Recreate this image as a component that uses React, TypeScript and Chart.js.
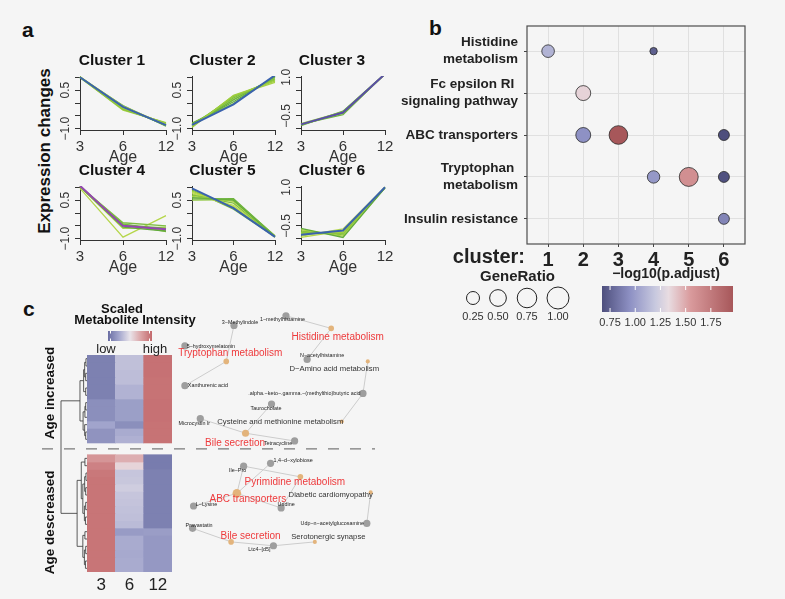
import React, { useEffect, useRef } from 'react';
import { Chart, registerables } from 'chart.js';

Chart.register(...registerables);

const FONT = '"Liberation Sans", Arial, Helvetica, sans-serif';
const PAGE_BG = '#f5f5f5';

// ---------------- Panel a : cluster profiles (first line = cluster core) ----------------
const AGE_LABELS = ['3', '6', '12'];
const CLUSTER_TITLES = ['Cluster 1', 'Cluster 2', 'Cluster 3', 'Cluster 4', 'Cluster 5', 'Cluster 6'];
const CLUSTER1 = [
  [1.0, -0.15, -0.86],
  [1.02, -0.12, -0.85], [1.0, -0.2, -0.8], [0.98, -0.25, -0.78], [1.0, -0.15, -0.88],
  [1.01, -0.22, -0.82], [0.99, -0.1, -0.9], [1.0, -0.28, -0.76], [1.02, -0.18, -0.86],
];
const CLUSTER2 = [
  [-0.85, -0.05, 1.08],
  [-0.95, 0.3, 0.85], [-0.9, 0.25, 0.9], [-0.85, 0.2, 0.95], [-0.88, 0.12, 1.0],
  [-0.8, 0.05, 1.02], [-0.92, 0.28, 0.8], [-0.78, -0.02, 1.05], [-0.86, 0.15, 0.92],
];
const CLUSTER3 = [
  [-0.83, -0.37, 1.13],
  [-0.8, -0.35, 1.12], [-0.85, -0.4, 1.12], [-0.82, -0.45, 1.13], [-0.88, -0.32, 1.14], [-0.84, -0.38, 1.12],
];
const CLUSTER4 = [
  [1.06, -0.5, -0.63],
  [1.03, -0.38, -0.5], [1.02, -0.45, -0.6], [1.03, -0.55, -0.7], [1.02, -0.6, -0.55],
  [1.04, -0.42, -0.72], [1.03, -0.5, -0.66], [0.96, -0.94, -0.1],
];
const CLUSTER5 = [
  [0.96, 0.19, -0.93],
  [0.55, 0.56, -0.9], [0.6, 0.5, -0.92], [0.65, 0.45, -0.9], [0.7, 0.38, -0.93], [0.75, 0.3, -0.91],
  [0.8, 0.25, -0.94], [0.85, 0.2, -0.9], [0.5, 0.52, -0.88], [0.9, 0.15, -0.92],
];
const CLUSTER6 = [
  [-0.85, -0.68, 1.0],
  [-0.6, -0.95, 0.98], [-0.65, -0.9, 1.0], [-0.7, -0.85, 0.97], [-0.9, -0.62, 1.0],
  [-0.95, -0.7, 0.99], [-0.8, -0.75, 0.98], [-0.75, -0.8, 1.0],
];
const CLUSTERS = [CLUSTER1, CLUSTER2, CLUSTER3, CLUSTER4, CLUSTER5, CLUSTER6];
const CLUSTER_Y_LABELS = [[0.5, -1.0], [0.5, -1.0], [1.0, -0.5], [0.5, -1.0], [0.5, -1.0], [1.0, -0.5]];

// styles for panel a
const CORE_COLORS = ['#3a62ad', '#3a62ad', '#5a4ea6', '#9446b0', '#3a62ad', '#3a62ad'];
const GREEN_SHADES = ['#b5d64a', '#9fce3f', '#8dc63c', '#7dbd41', '#6fb43f', '#62ab3c', '#a8d245', '#86c23e', '#bcdc52'];
const SMALL_PLOTS = [
  { pl: 80, pr: 166, pt: 76, pb: 130 },
  { pl: 192, pr: 275, pt: 76, pb: 130 },
  { pl: 301, pr: 385, pt: 76, pb: 130 },
  { pl: 80, pr: 166, pt: 186, pb: 240 },
  { pl: 192, pr: 275, pt: 186, pb: 240 },
  { pl: 301, pr: 385, pt: 186, pb: 240 },
];

// ---------------- Panel b : enrichment dot plot ----------------
const PATHWAYS = [
  ['Histidine', 'metabolism'],
  ['Fc epsilon RI ', 'signaling pathway'],
  ['ABC transporters'],
  ['Tryptophan ', 'metabolism'],
  ['Insulin resistance'],
];
const CLUSTER_IDS = [1, 2, 3, 4, 5, 6];
const DOT_CLUSTER = [1, 4, 2, 2, 3, 6, 4, 5, 6, 6];
const DOT_PATHWAY = [1, 1, 2, 3, 3, 3, 4, 4, 4, 5];
const DOT_GENERATIO = [0.23, 0.036, 0.37, 0.37, 0.66, 0.15, 0.22, 0.69, 0.15, 0.15];
const DOT_LOGP = [1.1, 0.74, 1.36, 0.95, 1.97, 0.67, 0.98, 1.62, 0.68, 0.9];
const SIZE_BREAKS = [0.25, 0.5, 0.75, 1.0];
const LOGP_BREAKS = [0.75, 1.0, 1.25, 1.5, 1.75];
const LOGP_LIMITS = [0.67, 1.97];

// ---------------- Panel c : heatmap ----------------
const HEAT_COLUMNS = ['3', '6', '12'];
const TOP_AGE3 = [-1.0, -1.0, -1.0, -1.0, -1.0, -1.0, -0.85, -0.85, -0.85, -0.62, -0.8, -0.8];
const TOP_AGE6 = [-0.35, -0.35, -0.38, -0.38, -0.48, -0.48, -0.68, -0.68, -0.68, -0.85, -0.55, -0.5];
const TOP_AGE12 = [1.12, 1.12, 1.12, 1.1, 1.1, 1.1, 1.12, 1.12, 1.12, 1.1, 1.1, 1.1];
const BOT_AGE3 = [0.75, 0.95, 1.05, 1.08, 1.08, 1.08, 1.08, 1.08, 1.08, 1.08, 1.08, 1.08, 1.08, 1.08, 1.08, 1.08];
const BOT_AGE6 = [0.5, 0.15, -0.3, -0.28, -0.22, -0.3, -0.32, -0.34, -0.36, -0.4, -0.72, -0.55, -0.55, -0.57, -0.55, -0.55];
const BOT_AGE12 = [-1.05, -1.05, -1.0, -1.0, -1.0, -1.0, -1.0, -1.0, -1.0, -1.0, -0.7, -0.75, -0.75, -0.75, -0.75, -0.75];
const BLOCK_GAP = 1.6;
// dendrogram merges: [childA, childB, height]; leaves 0..27, merge k has id 28+k
const DENDRO_MERGES: [number, number, number][] = [
  [0, 1, 0.04], [2, 3, 0.05], [28, 29, 0.09], [4, 5, 0.05], [30, 31, 0.13],
  [6, 7, 0.05], [33, 8, 0.08], [10, 11, 0.05], [9, 35, 0.09], [34, 36, 0.15], [32, 37, 0.27],
  [12, 13, 0.08], [14, 15, 0.04], [16, 17, 0.05], [40, 41, 0.09], [18, 19, 0.05], [20, 21, 0.06],
  [43, 44, 0.1], [42, 45, 0.16], [39, 46, 0.22], [22, 23, 0.08], [24, 25, 0.05], [26, 27, 0.06],
  [49, 50, 0.1], [48, 51, 0.16], [47, 52, 0.38], [38, 53, 1.0],
];

// ---------------- Panel c : metabolite–pathway network ----------------
const NET_LABELS = [
  '3−Methylindole', '1−methylhistamine', 'Histidine metabolism', 'N−acetylhistamine',
  'D−Amino acid metabolism', '5−hydroxymelatonin', 'Tryptophan metabolism', 'Xanthurenic acid',
  '.alpha.−keto−.gamma.−(methylthio)butyric acid', 'Taurocholate', 'Cysteine and methionine metabolism',
  'Microcystin lr', 'Bile secretion', 'Tetracycline', '1,4−d−xylobiose', 'Ile−Pro',
  'Pyrimidine metabolism', 'ABC transporters', 'Diabetic cardiomyopathy', 'L−Lysine', 'Uridine',
  'Udp−n−acetylglucosamine', 'Pravastatin', 'Bile secretion', 'Serotonergic synapse', 'Ltc4−[d5]',
];
const NET_KIND = ['m', 'm', 'p', 'm', 'q', 'm', 'p', 'm', 'm', 'm', 'q', 'm', 'p', 'm', 'm', 'm', 'p', 'p', 'q', 'm', 'm', 'm', 'm', 'p', 'q', 'm'];
const NET_X = [62, 116, 163, 138, 201, 11, 54, 11, 196, 101, 174, 27, 74, 125, 100, 72, 131, 65, 204, 20, 111, 200, 19, 59, 146, 103];
const NET_Y = [27, 17, 30, 62, 64, 48, 64, 89, 97, 108, 126, 123, 138, 146, 169, 172, 183, 200, 199, 213, 215, 231, 236, 250, 250, 254];
const NET_EDGES = [
  [0, 6], [6, 7], [1, 2], [2, 3], [4, 8], [8, 10], [9, 12], [11, 12], [12, 13],
  [15, 17], [14, 17], [15, 16], [16, 20], [17, 20], [19, 17], [18, 21], [22, 23], [23, 25], [25, 24],
];
// label placement (styling)
const LABEL_DX = [6, -3.5, 6.5, 15, -33.5, 26, 4, 23, -58.5, -5.5, -61.5, -6, -10.5, -16.5, 22.5, -6, -5.5, 11, -40, 13, 5, -34.5, 6.5, 19.5, 13.5, -14];
const LABEL_DY = [-3, 4, 9, -4, 7, 1, -8, 0, 0, 4, 0, 5, 10, 3, -3, 4, 5, 6, 2, -1, -3, 0, -3, -6, -5, 4];

// ---------------- colour helpers ----------------
const LOGP_STOPS: [number, string][] = [
  [0.67, '#4e4f7d'], [0.95, '#8e91c4'], [1.2, '#c8c9df'], [1.33, '#e8dce1'], [1.55, '#d99a9c'], [1.97, '#a7575a'],
];
const HEAT_STOPS: [number, string][] = [
  [-1.2, '#6a6ea3'], [-0.6, '#a3a6cd'], [0, '#e9e4ea'], [0.6, '#dba3a5'], [1.2, '#c3696c'],
];
function hexRgb(h: string) {
  const n = parseInt(h.slice(1), 16);
  return [(n >> 16) & 255, (n >> 8) & 255, n & 255];
}
function ramp(stops: [number, string][], v: number) {
  if (v <= stops[0][0]) return stops[0][1];
  if (v >= stops[stops.length - 1][0]) return stops[stops.length - 1][1];
  for (let i = 0; i < stops.length - 1; i++) {
    const [a, ca] = stops[i];
    const [b, cb] = stops[i + 1];
    if (v >= a && v <= b) {
      const t = (v - a) / (b - a);
      const A = hexRgb(ca);
      const B = hexRgb(cb);
      const c = A.map((x, k) => Math.round(x + (B[k] - x) * t));
      return `rgb(${c[0]},${c[1]},${c[2]})`;
    }
  }
  return stops[0][1];
}
const ratioToRadius = (v: number) => 2 + 9 * Math.sqrt(v);
const minusFmt = (v: number) => v.toFixed(1).replace('-', '−');

// ---------------- generic canvas holder ----------------
type Box = { left: number; top: number; width: number; height: number };
function ChartCanvas({ box, build }: { box: Box; build: () => any }) {
  const ref = useRef<HTMLCanvasElement>(null);
  useEffect(() => {
    const chart = new Chart(ref.current as HTMLCanvasElement, build());
    return () => chart.destroy();
  }, []);
  return (
    <canvas
      ref={ref}
      width={box.width}
      height={box.height}
      style={{ position: 'absolute', left: box.left, top: box.top, width: box.width, height: box.height }}
    />
  );
}

// ---------------- panel a chart ----------------
function buildCluster(idx: number) {
  const lines = CLUSTERS[idx];
  const title = CLUSTER_TITLES[idx];
  const yLabels = CLUSTER_Y_LABELS[idx];
  const decor = {
    id: 'smallDecor' + idx,
    afterDraw(chart: any) {
      const { ctx, chartArea: ca, scales } = chart;
      ctx.save();
      ctx.fillStyle = '#111';
      ctx.textAlign = 'center';
      ctx.textBaseline = 'middle';
      ctx.font = `bold 15.5px ${FONT}`;
      ctx.fillText(title, (ca.left + ca.right) / 2 - 11, ca.top - 15);
      ctx.fillStyle = '#333';
      ctx.font = `16px ${FONT}`;
      ctx.fillText('Age', (ca.left + ca.right) / 2, ca.bottom + 28);
      ctx.font = `12px ${FONT}`;
      for (const v of yLabels) {
        const y = scales.y.getPixelForValue(v);
        ctx.save();
        ctx.translate(ca.left - 8, y);
        ctx.rotate(-Math.PI / 2);
        ctx.textBaseline = 'bottom';
        ctx.fillText(minusFmt(v), 0, 0);
        ctx.restore();
      }
      ctx.restore();
    },
  };
  return {
    type: 'line',
    data: {
      labels: AGE_LABELS,
      datasets: lines.map((vals, i) => ({
        data: vals,
        borderColor: i === 0 ? CORE_COLORS[idx] : GREEN_SHADES[(i - 1 + idx) % GREEN_SHADES.length],
        borderWidth: i === 0 ? 2 : 1.3,
        pointRadius: 0,
        fill: false,
        tension: 0,
        order: i === 0 ? 0 : 1,
      })),
    },
    options: {
      animation: false,
      responsive: false,
      maintainAspectRatio: false,
      layout: { padding: { top: 28, right: 16, left: 0, bottom: 0 } },
      plugins: { legend: { display: false }, tooltip: { enabled: false }, title: { display: false } },
      scales: {
        x: {
          type: 'category',
          offset: false,
          grid: { drawOnChartArea: false, drawTicks: true, tickLength: 5, color: '#333' },
          border: { color: '#333', width: 1 },
          ticks: { font: { family: FONT, size: 15 }, color: '#333', padding: 3, maxRotation: 0, autoSkip: false },
          afterFit: (s: any) => { s.height = 46; },
        },
        y: {
          min: -1.05,
          max: 1.05,
          ticks: { display: false, stepSize: 0.5, includeBounds: false },
          grid: { drawOnChartArea: false, drawTicks: true, tickLength: 5, color: '#333' },
          border: { color: '#333', width: 1 },
          afterFit: (s: any) => { s.width = 36; },
        },
      },
    },
    plugins: [decor],
  };
}

// ---------------- panel b chart ----------------
function buildDotPlot() {
  const decor = {
    id: 'dotDecor',
    afterDraw(chart: any) {
      const { ctx, chartArea: ca } = chart;
      ctx.save();
      ctx.strokeStyle = '#4d4d4d';
      ctx.lineWidth = 1.2;
      ctx.strokeRect(ca.left, ca.top, ca.right - ca.left, ca.bottom - ca.top);
      ctx.fillStyle = '#222';
      ctx.font = `bold 20px ${FONT}`;
      ctx.textAlign = 'right';
      ctx.textBaseline = 'middle';
      ctx.fillText('cluster:', 125, 257);
      // size legend
      ctx.textAlign = 'center';
      ctx.font = `bold 15px ${FONT}`;
      ctx.fillText('GeneRatio', 117.5, 277);
      const sx = [73, 98, 127, 158];
      SIZE_BREAKS.forEach((v, i) => {
        ctx.beginPath();
        ctx.arc(sx[i], 298, ratioToRadius(v), 0, Math.PI * 2);
        ctx.strokeStyle = '#222';
        ctx.lineWidth = 1;
        ctx.stroke();
        ctx.font = `11px ${FONT}`;
        ctx.fillStyle = '#333';
        ctx.fillText(v.toFixed(2), sx[i], 317);
      });
      // colour bar
      ctx.fillStyle = '#222';
      ctx.font = `bold 14px ${FONT}`;
      ctx.fillText('−log10(p.adjust)', 266, 274);
      const bx0 = 202, bx1 = 333, by0 = 286, by1 = 312;
      const g = ctx.createLinearGradient(bx0, 0, bx1, 0);
      LOGP_STOPS.forEach(([v, c]) => g.addColorStop((v - LOGP_LIMITS[0]) / (LOGP_LIMITS[1] - LOGP_LIMITS[0]), c));
      ctx.fillStyle = g;
      ctx.fillRect(bx0, by0, bx1 - bx0, by1 - by0);
      ctx.strokeStyle = '#fff';
      ctx.lineWidth = 1;
      ctx.font = `11px ${FONT}`;
      LOGP_BREAKS.forEach((v) => {
        const x = bx0 + ((v - LOGP_LIMITS[0]) / (LOGP_LIMITS[1] - LOGP_LIMITS[0])) * (bx1 - bx0);
        ctx.beginPath();
        ctx.moveTo(x, by0); ctx.lineTo(x, by0 + 4);
        ctx.moveTo(x, by1 - 4); ctx.lineTo(x, by1);
        ctx.stroke();
        ctx.fillStyle = '#333';
        ctx.fillText(v.toFixed(2), x, 323);
      });
      ctx.restore();
    },
  };
  return {
    type: 'bubble',
    data: {
      datasets: [
        {
          data: DOT_CLUSTER.map((c, i) => ({ x: c, y: DOT_PATHWAY[i], r: ratioToRadius(DOT_GENERATIO[i]) })),
          backgroundColor: DOT_LOGP.map((v) => ramp(LOGP_STOPS, v)),
          borderColor: '#2a2a2a',
          borderWidth: 0.8,
        },
      ],
    },
    options: {
      animation: false,
      responsive: false,
      maintainAspectRatio: false,
      layout: { padding: { left: 0, top: 26, right: 40, bottom: 60 } },
      plugins: { legend: { display: false }, tooltip: { enabled: false } },
      scales: {
        x: {
          type: 'linear',
          min: 0.4,
          max: 6.6,
          afterBuildTicks: (s: any) => { s.ticks = CLUSTER_IDS.map((v) => ({ value: v })); },
          ticks: { font: { family: FONT, size: 20, weight: 'bold' }, color: '#222', padding: 1, callback: (v: any) => String(v) },
          grid: { color: '#e0e0e0', tickColor: '#444', tickLength: 3 },
          border: { display: false },
          afterFit: (s: any) => { s.height = 26; },
        },
        y: {
          type: 'linear',
          min: 0.4,
          max: 5.6,
          reverse: true,
          afterBuildTicks: (s: any) => { s.ticks = PATHWAYS.map((_, i) => ({ value: i + 1 })); },
          ticks: {
            font: { family: FONT, size: 13.5, weight: 'bold', lineHeight: 1.25 },
            color: '#222',
            padding: 6,
            callback: (v: any) => PATHWAYS[Math.round(v) - 1],
          },
          grid: { color: '#e0e0e0', tickColor: '#444', tickLength: 3 },
          border: { display: false },
          afterFit: (s: any) => { s.width = 127; },
        },
      },
    },
    plugins: [decor],
  };
}

// ---------------- panel c heatmap ----------------
function buildHeatmap() {
  const rows: { vals: number[]; gap?: boolean }[] = [];
  TOP_AGE3.forEach((v, i) => rows.push({ vals: [v, TOP_AGE6[i], TOP_AGE12[i]] }));
  rows.push({ vals: [0, 0, 0], gap: true });
  BOT_AGE3.forEach((v, i) => rows.push({ vals: [v, BOT_AGE6[i], BOT_AGE12[i]] }));
  const nTop = TOP_AGE3.length;
  const total = nTop + BLOCK_GAP + BOT_AGE3.length;
  const leafUnit = (k: number) => (k < nTop ? k + 0.5 : nTop + BLOCK_GAP + (k - nTop) + 0.5);

  const decor = {
    id: 'heatDecor',
    afterDraw(chart: any) {
      const { ctx, chartArea: ca, scales } = chart;
      ctx.save();
      // dendrogram
      const nLeaves = TOP_AGE3.length + BOT_AGE3.length;
      const pos: { x: number; y: number }[] = [];
      for (let k = 0; k < nLeaves; k++) pos.push({ x: ca.left, y: scales.y.getPixelForValue(leafUnit(k)) });
      ctx.strokeStyle = '#333';
      ctx.lineWidth = 0.8;
      ctx.beginPath();
      DENDRO_MERGES.forEach(([a, b, h]) => {
        const xm = ca.left - h * 26;
        const pa = pos[a];
        const pb = pos[b];
        ctx.moveTo(pa.x, pa.y); ctx.lineTo(xm, pa.y);
        ctx.moveTo(pb.x, pb.y); ctx.lineTo(xm, pb.y);
        ctx.moveTo(xm, pa.y); ctx.lineTo(xm, pb.y);
        pos.push({ x: xm, y: (pa.y + pb.y) / 2 });
      });
      ctx.stroke();
      // dashed separator
      const ySep = scales.y.getPixelForValue(nTop + BLOCK_GAP / 2);
      ctx.strokeStyle = '#7a7a7a';
      ctx.lineWidth = 1.3;
      ctx.setLineDash([11, 11]);
      ctx.beginPath();
      ctx.moveTo(42, ySep); ctx.lineTo(375, ySep);
      ctx.stroke();
      ctx.setLineDash([]);
      // key title
      ctx.fillStyle = '#111';
      ctx.textAlign = 'center';
      ctx.textBaseline = 'middle';
      ctx.font = `bold 13px ${FONT}`;
      ctx.fillText('Scaled', 122, 14);
      ctx.fillText('Metabolite Intensity', 135, 25);
      const g = ctx.createLinearGradient(108, 0, 152, 0);
      HEAT_STOPS.forEach(([v, c]) => g.addColorStop((v + 1.2) / 2.4, c));
      ctx.fillStyle = g;
      ctx.fillRect(108, 36, 44, 10);
      ctx.strokeStyle = '#fff';
      ctx.lineWidth = 1;
      ctx.beginPath();
      [110.5, 149.5].forEach((x) => { ctx.moveTo(x, 36); ctx.lineTo(x, 38.5); ctx.moveTo(x, 43.5); ctx.lineTo(x, 46); });
      ctx.stroke();
      ctx.fillStyle = '#222';
      ctx.font = `13px ${FONT}`;
      ctx.fillText('low', 106, 54);
      ctx.fillText('high', 155, 54);
      // block labels
      ctx.font = `bold 13.5px ${FONT}`;
      ctx.fillStyle = '#111';
      const yTop = (scales.y.getPixelForValue(0) + scales.y.getPixelForValue(nTop)) / 2;
      const yBot = (scales.y.getPixelForValue(nTop + BLOCK_GAP) + scales.y.getPixelForValue(total)) / 2;
      [['Age increased', yTop - 6], ['Age descreased', yBot + 9]].forEach(([t, y]) => {
        ctx.save();
        ctx.translate(50, y as number);
        ctx.rotate(-Math.PI / 2);
        ctx.fillText(t as string, 0, 0);
        ctx.restore();
      });
      ctx.restore();
    },
  };

  return {
    type: 'bar',
    data: {
      labels: HEAT_COLUMNS,
      datasets: rows.map((r) => ({
        data: r.gap ? [BLOCK_GAP, BLOCK_GAP, BLOCK_GAP] : [1, 1, 1],
        backgroundColor: r.gap ? 'rgba(0,0,0,0)' : r.vals.map((v) => ramp(HEAT_STOPS, v)),
        borderWidth: 0,
        barPercentage: 1,
        categoryPercentage: 1,
        stack: 'heat',
      })),
    },
    options: {
      animation: false,
      responsive: false,
      maintainAspectRatio: false,
      layout: { padding: { left: 87, right: 228, top: 60, bottom: 0 } },
      plugins: { legend: { display: false }, tooltip: { enabled: false } },
      scales: {
        x: {
          stacked: true,
          grid: { display: false, drawTicks: false, tickLength: 0 },
          border: { display: false },
          ticks: { font: { family: FONT, size: 17 }, color: '#222', padding: 3 },
          afterFit: (s: any) => { s.height = 23; },
        },
        y: { stacked: true, display: false, reverse: true, min: 0, max: total },
      },
    },
    plugins: [decor],
  };
}

// ---------------- panel c network ----------------
function buildNetwork() {
  const degree = NET_X.map((_, i) => NET_EDGES.filter((e) => e[0] === i || e[1] === i).length);
  const radius = NET_KIND.map((k, i) => (k === 'm' ? 3.6 : 1.3 + 0.75 * degree[i]));
  const labels = {
    id: 'netLabels',
    afterDatasetsDraw(chart: any) {
      const { ctx, scales } = chart;
      ctx.save();
      ctx.textAlign = 'center';
      ctx.textBaseline = 'middle';
      NET_LABELS.forEach((t, i) => {
        const x = scales.x.getPixelForValue(NET_X[i]) + LABEL_DX[i];
        const y = scales.y.getPixelForValue(NET_Y[i]) + LABEL_DY[i];
        if (NET_KIND[i] === 'p') { ctx.font = `10px ${FONT}`; ctx.fillStyle = '#ee3a3c'; }
        else if (NET_KIND[i] === 'q') { ctx.font = `7.7px ${FONT}`; ctx.fillStyle = '#333'; }
        else { ctx.font = `5.4px ${FONT}`; ctx.fillStyle = '#222'; }
        ctx.fillText(t, x, y);
      });
      ctx.restore();
    },
  };
  return {
    type: 'scatter',
    data: {
      datasets: [
        {
          data: NET_X.map((x, i) => ({ x, y: NET_Y[i] })),
          pointRadius: radius,
          pointBackgroundColor: NET_KIND.map((k) => (k === 'm' ? '#9e9e9e' : '#e3b47c')),
          pointBorderWidth: 0,
        },
        ...NET_EDGES.map(([a, b]) => ({
          data: [{ x: NET_X[a], y: NET_Y[a] }, { x: NET_X[b], y: NET_Y[b] }],
          showLine: true,
          borderColor: '#cccccc',
          borderWidth: 1,
          pointRadius: 0,
        })),
      ],
    },
    options: {
      animation: false,
      responsive: false,
      maintainAspectRatio: false,
      layout: { padding: 0 },
      plugins: { legend: { display: false }, tooltip: { enabled: false } },
      scales: {
        x: { type: 'linear', display: false, min: 0, max: 230 },
        y: { type: 'linear', display: false, min: 0, max: 290, reverse: true },
      },
    },
    plugins: [labels],
  };
}

const letterStyle = (left: number, top: number): React.CSSProperties => ({
  position: 'absolute', left, top, font: `bold 21px ${FONT}`, lineHeight: '21px', color: '#111',
});

export default function App() {
  return (
    <div style={{ position: 'absolute', left: 0, top: 0, width: 785, height: 599, background: PAGE_BG, overflow: 'hidden', fontFamily: FONT }}>
      <div style={letterStyle(22, 19)}>a</div>
      <div style={letterStyle(429, 17)}>b</div>
      <div style={letterStyle(23, 298)}>c</div>
      <div
        style={{
          position: 'absolute', left: 45 - 100, top: 151 - 10, width: 200, height: 20, lineHeight: '20px',
          textAlign: 'center', font: `bold 17px ${FONT}`, color: '#111', transform: 'rotate(-90deg)',
        }}
      >
        Expression changes
      </div>
      {SMALL_PLOTS.map((p, i) => (
        <ChartCanvas
          key={i}
          box={{ left: p.pl - 36, top: p.pt - 28, width: p.pr - p.pl + 52, height: p.pb - p.pt + 74 }}
          build={() => buildCluster(i)}
        />
      ))}
      <ChartCanvas box={{ left: 400, top: 0, width: 385, height: 330 }} build={buildDotPlot} />
      <ChartCanvas box={{ left: 0, top: 295, width: 400, height: 300 }} build={buildHeatmap} />
      <ChartCanvas box={{ left: 170, top: 295, width: 230, height: 290 }} build={buildNetwork} />
    </div>
  );
}
